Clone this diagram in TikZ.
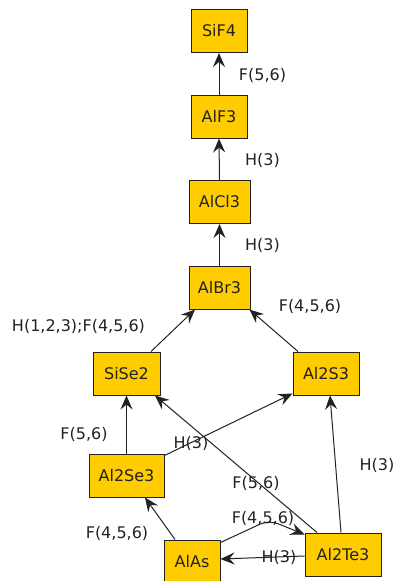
\documentclass[tikz,border=0pt]{standalone}
\usepackage{fontspec}
\setmainfont{DejaVu Sans}
\usetikzlibrary{arrows.meta}
\definecolor{boxfill}{HTML}{FFCC00}
\definecolor{ink}{HTML}{222222}
\tikzset{
  cmpd/.style={draw=ink, line width=1pt, fill=boxfill, text=ink, inner sep=0pt,
    minimum height=43pt, font=\fontsize{16}{19}\selectfont,
    text height=11.5pt, text depth=0pt},
  lbl/.style={text=ink, inner sep=0pt, font=\fontsize{16}{19}\selectfont},
  arr/.style={draw=ink, line width=1pt, -{Stealth[length=14pt,width=12pt,inset=5pt]}}
}
\begin{document}
\begin{tikzpicture}[x=1pt,y=-1pt]
\useasboundingbox (0,0) rectangle (394,581);
% compounds
\node[cmpd, minimum width=56pt] (SiF4)   at (219,31)     {SiF4};
\node[cmpd, minimum width=56pt] (AlF3)   at (219,116.5)  {AlF3};
\node[cmpd, minimum width=61pt] (AlCl3)  at (219.5,202)  {AlCl3};
\node[cmpd, minimum width=61pt] (AlBr3)  at (219.5,287.5){AlBr3};
\node[cmpd, minimum width=67pt] (SiSe2)  at (126.5,373.5){SiSe2};
\node[cmpd, minimum width=66pt] (Al2S3)  at (326,373.5)  {Al2S3};
\node[cmpd, minimum width=75pt] (Al2Se3) at (126.5,475.5){Al2Se3};
\node[cmpd, minimum width=56pt] (AlAs)   at (192,561.5)  {AlAs};
\node[cmpd, minimum width=76pt] (Al2Te3) at (343,554.5)  {Al2Te3};
% relations
\draw[arr] (AlF3.north) -- (SiF4.south);
\draw[arr] (AlCl3.north) -- (AlF3.south);
\draw[arr] (AlBr3.north) -- (AlCl3.south);
\draw[arr] ([xshift=24.5pt]SiSe2.north) -- ([xshift=-24.5pt]AlBr3.south);
\draw[arr] ([xshift=-28pt]Al2S3.north) -- ([xshift=-1pt]AlBr3.south east);
\draw[arr] (Al2Se3.north) -- (SiSe2.south);
\draw[arr] ([yshift=-2pt]Al2Se3.north east) -- ([yshift=2pt]Al2S3.south west);
\draw[arr] ([xshift=-26pt]Al2Te3.north) -- ([xshift=28.5pt]SiSe2.south);
\draw[arr] ([xshift=-2pt]Al2Te3.north) -- ([xshift=4pt]Al2S3.south);
\draw[arr] ([xshift=-17pt]AlAs.north) -- ([xshift=18.5pt]Al2Se3.south);
\draw[arr, rounded corners=10pt] ([yshift=-3pt]AlAs.north east) -- (269,520) -- ([yshift=-2pt]Al2Te3.north west);
\draw[arr] ([yshift=-1.5pt]Al2Te3.west) -- ([yshift=2.5pt]AlAs.east);
% relation labels
\node[lbl] (l1)  at (262.5,75)  {F(5,6)};
\node[lbl] (l2)  at (262.5,160) {H(3)};
\node[lbl] (l3)  at (262.5,245) {H(3)};
\node[lbl] (l4)  at (78.5,326)  {H(1,2,3);F(4,5,6)};
\node[lbl] (l5)  at (310,306)   {F(4,5,6)};
\node[lbl] (l6)  at (84,434)    {F(5,6)};
\node[lbl] (l7)  at (191,443)   {H(3)};
\node[lbl] (l8)  at (377,465)   {H(3)};
\node[lbl] (l9)  at (256,483)   {F(5,6)};
\node[lbl] (l10) at (117,533)   {F(4,5,6)};
\node[lbl] (l11) at (263,518)   {F(4,5,6)};
\node[lbl] (l12) at (279,557)   {H(3)};
\end{tikzpicture}
\end{document}
